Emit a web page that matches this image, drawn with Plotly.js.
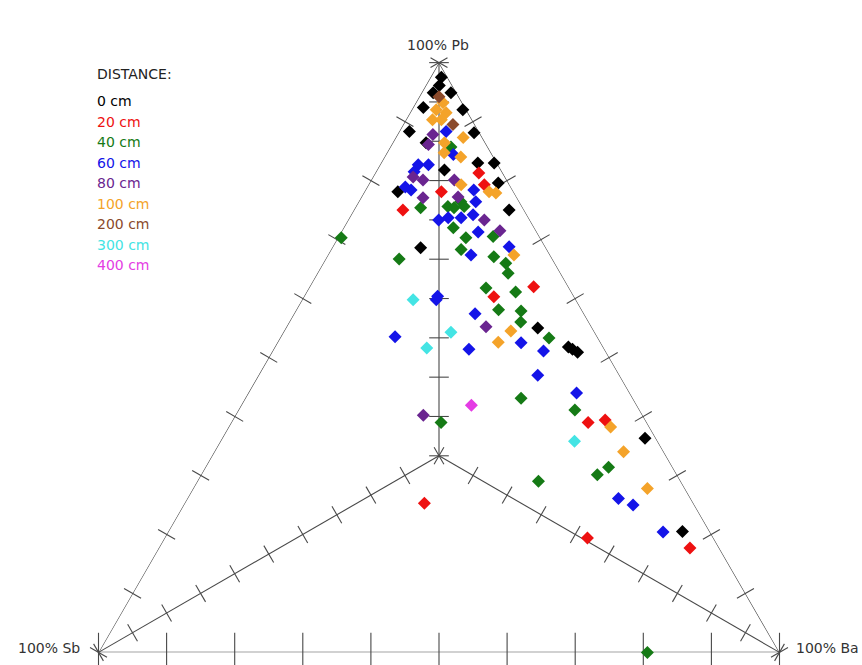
<!DOCTYPE html>
<html><head><meta charset="utf-8">
<script src="https://cdn.plot.ly/plotly-3.0.1.min.js"></script>
<style>html,body{margin:0;padding:0;background:#fff}#chart{width:862px;height:665px}</style>
</head><body><div id="chart"></div><script>
// Distance classes and colours
const DISTANCES = ['0 cm','20 cm','40 cm','60 cm','80 cm','100 cm','200 cm','300 cm','400 cm'];
const COLORS = ['#000000','#ee1111','#157a15','#1414e8','#6a2590','#f4a32a','#8b4a2b','#44e4e4','#e43ce4'];

// Composition (%) per distance: Pb, Sb, Ba
const PB_0 = [97.5,96.1,94.9,94.9,92.4,92.0,88.3,88.1,86.4,83.0,83.0,81.8,79.6,78.1,75.0,68.6,55.0,51.8,51.4,50.9,36.3,20.5];
const SB_0 = [0.9,1.9,3.4,0.8,6.1,0.5,10.2,0.8,8.7,2.8,0.4,8.3,1.5,17.0,2.2,18.4,8.0,5.1,4.7,4.2,1.6,4.0];
const BA_0 = [1.6,2.0,1.7,4.3,1.5,7.5,1.5,11.1,4.9,14.2,16.6,9.9,18.9,4.9,22.8,13.0,37.0,43.1,43.9,44.9,62.1,75.5];

const PB_20 = [81.3,78.1,79.3,75.0,62.0,60.3,39.0,39.4,25.3,19.4,17.7];
const SB_20 = [3.5,10.6,3.7,17.8,5.1,11.8,8.6,5.9,39.5,18.5,4.3];
const BA_20 = [15.2,11.3,17.0,7.2,32.9,27.9,52.4,54.7,35.2,62.1,78.0];

const PB_40 = [85.7,75.4,76.4,75.6,75.4,75.6,72.0,70.3,70.5,70.3,66.7,68.3,67.1,66.0,64.3,61.8,61.1,58.1,57.9,56.0,53.3,43.1,39.0,41.1,31.4,30.1,29.0,0];
const SB_40 = [5.4,15.0,8.6,10.9,10.1,8.5,11.9,10.9,6.8,29.2,22.5,12.6,8.4,7.2,7.7,12.2,8.2,12.2,9.0,10.0,7.2,16.4,30.2,9.5,9.4,11.7,20.9,19.4];
const BA_40 = [8.9,9.6,15.0,13.5,14.5,15.9,16.1,18.8,22.7,0.5,10.8,19.1,24.5,26.8,28.0,26.0,30.7,29.7,33.1,34.0,39.5,40.5,30.8,49.4,59.2,58.2,50.1,80.6];

const PB_60 = [88.3,84.4,82.7,82.7,81.5,78.4,78.9,78.4,76.4,73.3,73.7,73.7,74.2,71.3,67.4,68.8,60.4,59.8,57.4,53.5,51.4,52.5,51.1,47.0,44.0,26.1,25.0,20.4];
const SB_60 = [4.8,5.7,11.7,10.2,12.9,14.9,15.5,5.7,6.4,13.4,11.8,9.9,7.9,8.6,11.6,5.3,20.0,20.5,16.0,29.7,19.9,11.7,9.1,12.0,7.8,10.6,9.0,6.9];
const BA_60 = [6.9,9.9,5.6,7.1,5.6,6.7,5.6,15.9,17.2,13.3,14.5,16.4,17.9,20.1,21.0,25.9,19.6,19.7,26.6,16.8,28.7,35.8,39.8,41.0,48.2,63.3,66.0,72.7];

const PB_80 = [87.8,86.1,80.6,80.1,80.1,77.1,77.2,73.3,71.5,55.2,40.2];
const SB_80 = [7.0,8.5,13.5,12.3,7.7,13.8,8.6,6.7,5.3,15.5,32.2];
const BA_80 = [5.2,5.4,5.9,7.6,12.2,9.1,14.2,20.0,23.2,29.3,27.6];

const PB_100 = [93.2,92.0,91.5,90.3,90.3,87.3,86.4,84.7,84.0,79.3,78.1,77.9,67.4,54.5,52.6,38.2,34.0,27.8];
const SB_100 = [2.8,4.4,3.2,4.5,5.8,2.8,6.0,6.9,4.8,7.1,3.6,2.7,5.3,12.2,15.0,5.7,5.9,5.5];
const BA_100 = [4.0,3.6,5.3,5.2,3.9,9.9,7.6,8.4,11.2,13.6,18.3,19.4,27.3,33.3,32.4,56.1,60.1,66.7];

const PB_200 = [94.2,89.5];
const SB_200 = [2.9,3.2];
const BA_200 = [2.9,7.3];

const PB_300 = [59.8,54.3,51.6,35.8];
const SB_300 = [23.9,21.1,26.0,12.2];
const BA_300 = [16.3,24.6,22.4,52.0];

const PB_400 = [41.9];
const SB_400 = [24.3];
const BA_400 = [33.8];

const VERTEX_LABELS = ['100% Pb','100% Sb','100% Ba'];
const STEPS = [0,10,20,30,40,50,60,70,80,90,100];

const GROUPS = [
  [PB_0,SB_0,BA_0],[PB_20,SB_20,BA_20],[PB_40,SB_40,BA_40],[PB_60,SB_60,BA_60],
  [PB_80,SB_80,BA_80],[PB_100,SB_100,BA_100],[PB_200,SB_200,BA_200],
  [PB_300,SB_300,BA_300],[PB_400,SB_400,BA_400]
];

const LINE = '#484848';
const traces = [];
function seg(a,b,c){
  traces.push({type:'scatterternary',mode:'lines',a:a,b:b,c:c,
    line:{color:LINE,width:1.1},cliponaxis:false,hoverinfo:'skip',showlegend:false});
}
function ticks(a,b,c,angle,size){
  traces.push({type:'scatterternary',mode:'markers',a:a,b:b,c:c,
    marker:{symbol:'line-ns',size:size,angle:angle,color:LINE,line:{color:LINE,width:1.1}},
    cliponaxis:false,hoverinfo:'skip',showlegend:false});
}
// outer triangle
seg([100,0,0,100],[0,100,0,0],[0,0,100,0]);
// lines from vertices to the centre
seg([100,100/3],[0,100/3],[0,100/3]);
seg([0,100/3],[100,100/3],[0,100/3]);
seg([0,100/3],[0,100/3],[100,100/3]);
// tick crosses
const z = STEPS.map(()=>0);
ticks(STEPS, STEPS.map(s=>100-s), z, -60, 14);           // Sb-Pb edge
ticks(STEPS, z, STEPS.map(s=>100-s), 60, 14);            // Ba-Pb edge
ticks(z, STEPS, STEPS.map(s=>100-s), 0, 28);             // Sb-Ba edge
ticks(STEPS.map(s=>100-2*s/3), STEPS.map(s=>s/3), STEPS.map(s=>s/3), 90, 14);
ticks(STEPS.map(s=>s/3), STEPS.map(s=>100-2*s/3), STEPS.map(s=>s/3), -30, 14);
ticks(STEPS.map(s=>s/3), STEPS.map(s=>s/3), STEPS.map(s=>100-2*s/3), 30, 14);

// data
GROUPS.forEach((g,i)=>{
  traces.push({type:'scatterternary',mode:'markers',name:DISTANCES[i],
    a:g[0],b:g[1],c:g[2],
    marker:{symbol:'diamond',size:10,color:COLORS[i]},
    cliponaxis:false,showlegend:false});
});

const W = 862, H = 665;
const FONT = 'DejaVu Sans, Verdana, sans-serif';
const annotations = [];
annotations.push({xref:'paper',yref:'paper',x:438/W,y:1-45/H,xanchor:'center',yanchor:'middle',
  text:VERTEX_LABELS[0],showarrow:false,font:{size:14,color:'#333'}});
annotations.push({xref:'paper',yref:'paper',x:82/W,y:1-648/H,xanchor:'right',yanchor:'middle',
  text:VERTEX_LABELS[1],showarrow:false,font:{size:14,color:'#333'}});
annotations.push({xref:'paper',yref:'paper',x:794/W,y:1-648/H,xanchor:'left',yanchor:'middle',
  text:VERTEX_LABELS[2],showarrow:false,font:{size:14,color:'#333'}});
annotations.push({xref:'paper',yref:'paper',x:95/W,y:1-74/H,xanchor:'left',yanchor:'middle',
  text:'DISTANCE:',showarrow:false,font:{size:14,color:'#222'}});
DISTANCES.forEach((d,i)=>{
  annotations.push({xref:'paper',yref:'paper',x:95/W,y:1-(101+i*20.5)/H,xanchor:'left',yanchor:'middle',
    text:d,showarrow:false,font:{size:14,color:COLORS[i]}});
});

const hiddenAxis = {showline:false,showgrid:false,showticklabels:false,ticks:'',title:{text:''}};
const layout = {
  width:W,height:H,margin:{l:0,r:0,t:0,b:0},
  paper_bgcolor:'#ffffff',
  font:{family:FONT,size:14,color:'#333'},
  showlegend:false,
  ternary:{sum:100,bgcolor:'rgba(0,0,0,0)',
    domain:{x:[98.5/W,779.5/W],y:[12.5/H,602.5/H]},
    aaxis:hiddenAxis,baxis:hiddenAxis,caxis:hiddenAxis},
  annotations:annotations
};
Plotly.newPlot('chart',traces,layout,{displayModeBar:false,staticPlot:true});
</script></body></html>
